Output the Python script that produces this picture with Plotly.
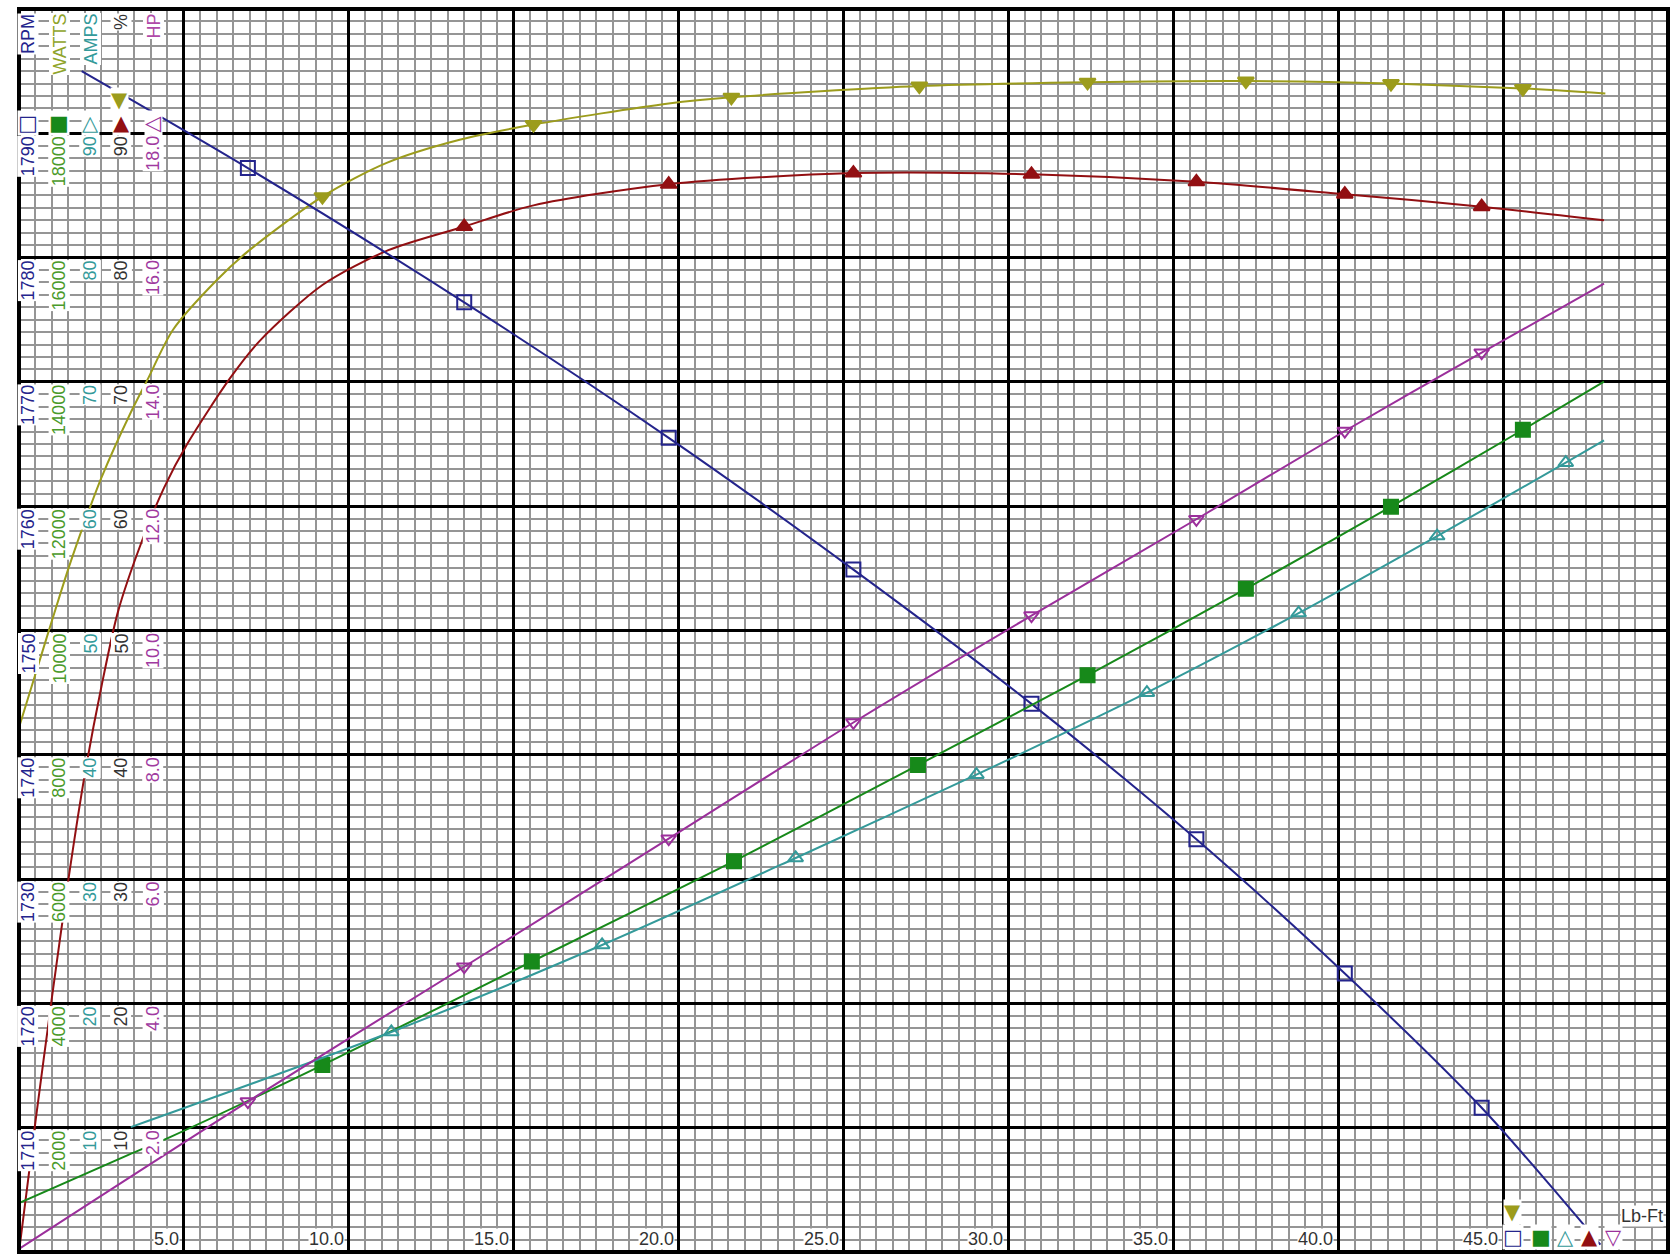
import plotly.graph_objects as go

# ---------------- data ----------------
# x axis: torque, Lb-Ft
rpm_x = [1.9, 6.94, 13.5, 19.7, 25.3, 30.7, 35.7, 40.2, 44.35, 47.95]
rpm_y = [1795.0, 1787.2, 1776.4, 1765.5, 1754.9, 1744.1, 1733.2, 1722.4, 1711.6, 1700.6]
rpm_marks = [1, 2, 3, 4, 5, 6, 7, 8]

watts_x = [0.0, 3.3, 4.58, 9.2, 15.55, 21.68, 27.26, 32.4, 37.2, 41.6, 45.6, 48.06]
watts_y = [788, 1560, 1849, 3007, 4674, 6289, 7835, 9278, 10670, 11993, 13230, 14003]
watts_marks = [3, 4, 5, 6, 7, 8, 9, 10]

amps_x = [3.39, 11.29, 17.68, 23.55, 29.03, 34.2, 38.8, 43.0, 46.9, 48.06]
amps_y = [10.05, 17.7, 24.7, 31.7, 38.4, 45.0, 51.4, 57.6, 63.5, 65.3]
amps_marks = [1, 2, 3, 4, 5, 6, 7, 8]

eff_x = [0.0, 0.5, 1.0, 1.5, 2.0, 2.5, 3.4, 3.9, 4.67, 6.0, 6.94, 9.2, 11.13, 13.39, 15.6, 19.7,
         21.6, 27.3, 32.4, 37.2, 41.6, 45.6, 48.1]
eff_y = [42.2, 46.5, 50.8, 55.0, 58.8, 62.3, 67.6, 70.2, 74.2, 78.2, 80.5, 84.9, 87.6, 89.5, 90.7, 92.4,
         92.9, 93.8, 94.1, 94.2, 94.0, 93.6, 93.2]
eff_marks = [11, 14, 16, 17, 18, 19, 20, 21]

pf_x = [0.0, 0.5, 1.0, 1.5, 2.0, 2.5, 3.0, 3.7, 4.4, 5.1, 6.4, 7.3, 9.2, 11.2, 13.5, 15.6, 19.7,
        25.3, 30.7, 35.7, 40.2, 44.35, 48.06]
pf_y = [0.0, 10.5, 20.5, 30.0, 38.5, 45.5, 51.5, 57.0, 61.5, 65.0, 70.3, 73.3, 77.8, 80.6, 82.5, 84.2, 85.9,
        86.8, 86.7, 86.1, 85.1, 84.1, 83.0]
pf_marks = [14, 16, 17, 18, 19, 20, 21]

hp_x = [0.0, 6.94, 13.5, 19.7, 25.3, 30.7, 35.7, 40.2, 44.35, 48.06]
hp_y = [0.05, 2.42, 4.59, 6.65, 8.52, 10.24, 11.79, 13.21, 14.47, 15.58]
hp_marks = [1, 2, 3, 4, 5, 6, 7, 8]

x_ticks = [5, 10, 15, 20, 25, 30, 35, 40, 45]
x_labels = ["5.0", "10.0", "15.0", "20.0", "25.0", "30.0", "35.0", "40.0", "45.0"]
rpm_ticks = [1710, 1720, 1730, 1740, 1750, 1760, 1770, 1780, 1790]
watts_ticks = [2000, 4000, 6000, 8000, 10000, 12000, 14000, 16000, 18000]
amps_ticks = [10, 20, 30, 40, 50, 60, 70, 80, 90]
pct_ticks = [10, 20, 30, 40, 50, 60, 70, 80, 90]
hp_ticks = [2.0, 4.0, 6.0, 8.0, 10.0, 12.0, 14.0, 16.0, 18.0]

# ---------------- styling ----------------
NAVY = "#24248c"
GREEN = "#17891a"
TEAL = "#349a9a"
OLIVE = "#9c9c1c"
RED = "#920f12"
PURPLE = "#9b2f9b"
FONT = "Liberation Sans"
FS = 18

W, H = 1674, 1258
ML, MR, MT, MB = 19, 6, 9, 6

fig = go.Figure()


def add_series(xs, ys, marks, yaxis, color, symbol, size, name):
    fig.add_trace(go.Scatter(
        x=xs, y=ys, mode="lines", yaxis=yaxis, name=name,
        line=dict(color=color, width=2, shape="spline", smoothing=0.8),
        hoverinfo="skip", showlegend=False))
    fig.add_trace(go.Scatter(
        x=[xs[i] for i in marks], y=[ys[i] for i in marks], mode="markers",
        yaxis=yaxis, name=name,
        marker=dict(symbol=symbol, size=size, color=color,
                    line=dict(color=color, width=2)),
        hoverinfo="skip", showlegend=False))


add_series(rpm_x, rpm_y, rpm_marks, "y2", NAVY, "square-open", 14, "RPM")
add_series(watts_x, watts_y, watts_marks, "y3", GREEN, "square", 14, "WATTS")
add_series(amps_x, amps_y, amps_marks, "y4", TEAL, "triangle-up-open", 13, "AMPS")
add_series(eff_x, eff_y, eff_marks, "y", OLIVE, "triangle-down", 14, "%")
add_series(pf_x, pf_y, pf_marks, "y", RED, "triangle-up", 14, "%")
add_series(hp_x, hp_y, hp_marks, "y5", PURPLE, "triangle-down-open", 13, "HP")

# ---------------- axes ----------------
fig.update_layout(
    width=W, height=H,
    margin=dict(l=ML, r=MR, t=MT, b=MB, pad=0),
    paper_bgcolor="white", plot_bgcolor="white",
    font=dict(family=FONT, size=FS),
    xaxis=dict(range=[0, 50], tick0=0, dtick=5, showticklabels=False, ticks="",
               showgrid=True, gridcolor="black", gridwidth=2.5, zeroline=False,
               minor=dict(tick0=0, dtick=0.5, showgrid=True, gridcolor="#959595", gridwidth=1.6)),
    yaxis=dict(range=[0, 100], tick0=0, dtick=10, showticklabels=False, ticks="",
               showgrid=True, gridcolor="black", gridwidth=2.5, zeroline=False,
               minor=dict(tick0=0, dtick=1, showgrid=True, gridcolor="#959595", gridwidth=1.6)),
    yaxis2=dict(range=[1700, 1800], overlaying="y", visible=False),
    yaxis3=dict(range=[0, 20000], overlaying="y", visible=False),
    yaxis4=dict(range=[0, 100], overlaying="y", visible=False),
    yaxis5=dict(range=[0, 20], overlaying="y", visible=False),
)

# border
fig.add_shape(type="rect", xref="paper", yref="paper", x0=0, x1=1, y0=0, y1=1,
              line=dict(color="black", width=4), layer="above")

pw = W - ML - MR
ph = H - MT - MB


def px_x(p):
    return (p - ML) / pw


def px_y(p):
    return (H - MB - p) / ph


annots = []
cols = [
    ("RPM", 28, NAVY, "y2", rpm_ticks, lambda v: f"{v:d}"),
    ("WATTS", 59, "#8fa42a", "y3", watts_ticks, lambda v: f"{v:d}"),
    ("AMPS", 90, TEAL, "y4", amps_ticks, lambda v: f"{v:d}"),
    ("%", 121, "#333333", "y", pct_ticks, lambda v: f"{v:d}"),
    ("HP", 153, "#b04aa8", "y5", hp_ticks, lambda v: f"{v:.1f}"),
]
tick_colors = [NAVY, "#4a9a2a", TEAL, "#333333", "#a03aa0"]
for (title, cx, tcol, yref, ticks, fmt), kcol in zip(cols, tick_colors):
    annots.append(dict(text=title, x=px_x(cx), xref="paper", xanchor="center",
                       y=1, yref="paper", yanchor="top", yshift=-4, textangle=-90,
                       showarrow=False, bgcolor="white", borderpad=0,
                       font=dict(family=FONT, size=FS, color=tcol)))
    for v in ticks:
        annots.append(dict(text=fmt(v), x=px_x(cx), xref="paper", xanchor="center",
                           y=v, yref=yref, yanchor="top", yshift=-2, textangle=-90,
                           showarrow=False, bgcolor="white", borderpad=0,
                           font=dict(family=FONT, size=FS, color=kcol)))

for v, lab in zip(x_ticks, x_labels):
    annots.append(dict(text=lab, x=v, xref="x", xanchor="right", xshift=-4,
                       y=px_y(1239), yref="paper", yanchor="middle",
                       showarrow=False, bgcolor="white", borderpad=0,
                       font=dict(family=FONT, size=FS, color="#333333")))

annots.append(dict(text="Lb-Ft", x=px_x(1664), xref="paper", xanchor="right",
                   y=px_y(1216), yref="paper", yanchor="middle",
                   showarrow=False, bgcolor="white", borderpad=0,
                   font=dict(family=FONT, size=FS, color="#333333")))

# legend glyphs (rotated set at top-left and plain set at bottom-right)
glyphs_left = [("□", 28, 123, NAVY), ("■", 59, 123, GREEN), ("△", 90, 123, TEAL),
               ("▲", 121, 123, RED), ("▼", 119, 100, OLIVE), ("◁", 153, 123, PURPLE)]
glyphs_right = [("▼", 1512, 1212, OLIVE), ("□", 1513, 1237, NAVY), ("■", 1541, 1237, GREEN),
                ("△", 1565, 1237, TEAL), ("▲", 1589, 1237, RED), ("▽", 1613, 1237, PURPLE)]
for g, gx, gy, gc in glyphs_left + glyphs_right:
    annots.append(dict(text=g, x=px_x(gx), xref="paper", xanchor="center",
                       y=px_y(gy), yref="paper", yanchor="middle",
                       showarrow=False, bgcolor="white", borderpad=0,
                       font=dict(family="DejaVu Sans", size=21, color=gc)))

fig.update_layout(annotations=annots)

fig.write_html("out.html", config={"displayModeBar": False},
               post_script="document.body.style.margin='0';document.body.style.overflow='hidden';")
